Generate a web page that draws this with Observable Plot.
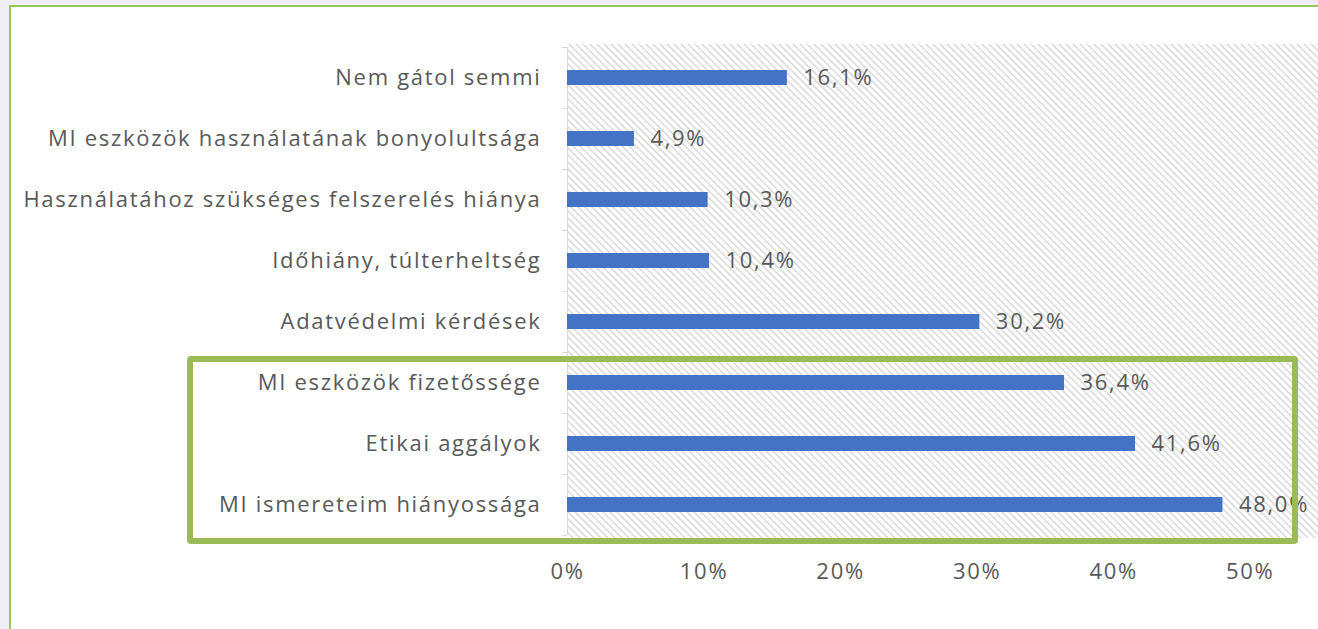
<!DOCTYPE html>
<html>
<head>
<meta charset="utf-8">
<script src="https://cdn.jsdelivr.net/npm/d3@7"></script>
<script src="https://cdn.jsdelivr.net/npm/@observablehq/plot@0.6"></script>
<style>
  html, body { margin: 0; padding: 0; overflow: hidden; background: #efeef4; width: 1318px; height: 629px; }
  #outer { position: absolute; left: 9px; top: 5px; width: 1400px; height: 700px; border: 2px solid #9cc35a; background: #fff; }
  #chart { position: absolute; left: 0; top: 0; }
  #chart svg { background: transparent; }
  #chart svg text { letter-spacing: 1.7px; }
  #hl { position: absolute; left: 187px; top: 356px; width: 1111px; height: 188px; box-sizing: border-box; border: 6px solid #9bbb59; border-radius: 4px; pointer-events: none; }
</style>
</head>
<body>
<div id="outer"></div>
<div id="chart"></div>
<div id="hl"></div>
<script>
const categories = [
  "Nem gátol semmi",
  "MI eszközök használatának bonyolultsága",
  "Használatához szükséges felszerelés hiánya",
  "Időhiány, túlterheltség",
  "Adatvédelmi kérdések",
  "MI eszközök fizetőssége",
  "Etikai aggályok",
  "MI ismereteim hiányossága"
];
const values = [16.1, 4.9, 10.3, 10.4, 30.2, 36.4, 41.6, 48.0];
const xTicks = [0, 10, 20, 30, 40, 50];

const data = categories.map((c, i) => ({cat: c, value: values[i]}));
const fmt = v => v.toFixed(1).replace(".", ",") + "%";

const FONT = "'Open Sans', sans-serif";

function hatchBackground(index, scales, values, dim) {
  const g = d3.create("svg:g");
  const defs = g.append("defs");
  const p = defs.append("pattern")
    .attr("id", "hatch").attr("patternUnits", "userSpaceOnUse")
    .attr("width", 7).attr("height", 7);
  p.append("rect").attr("width", 7).attr("height", 7).attr("fill", "#fff");
  const path = "M0,0L7,7M-1,6L1,8M6,-1L8,1";
  p.append("path").attr("d", path).attr("stroke", "#d8d8d8").attr("stroke-width", 1.4);
  g.append("rect")
    .attr("x", dim.marginLeft).attr("y", dim.marginTop)
    .attr("width", dim.width - dim.marginLeft - dim.marginRight)
    .attr("height", dim.height - dim.marginTop - dim.marginBottom)
    .attr("fill", "url(#hatch)");
  return g.node();
}

function bandTicks(index, scales, values, dim) {
  const y = scales.y;
  const g = d3.create("svg:g").attr("stroke", "#d9d9d9").attr("stroke-width", 1);
  const x0 = dim.marginLeft;
  const starts = categories.map(c => y(c));
  const step = starts.length > 1 ? starts[1] - starts[0] : 0;
  const bounds = starts.concat([starts[starts.length - 1] + step]);
  bounds.forEach(b => {
    g.append("line").attr("x1", x0 - 5).attr("x2", x0).attr("y1", b + 0.5).attr("y2", b + 0.5);
  });
  g.append("line").attr("x1", x0 + 0.5).attr("x2", x0 + 0.5)
    .attr("y1", bounds[0]).attr("y2", bounds[bounds.length - 1]);
  return g.node();
}

const chart = Plot.plot({
  width: 1318,
  height: 629,
  marginTop: 44,
  marginBottom: 91,
  marginLeft: 567,
  marginRight: 0,
  style: {background: "transparent", fontFamily: FONT, fontSize: "22px", color: "#595959"},
  x: {domain: [0, 55], ticks: xTicks, tickFormat: d => d + "%", tickSize: 0, tickPadding: 25, label: null},
  y: {domain: categories, padding: 0, tickSize: 0, tickPadding: 26, label: null},
  marks: [
    hatchBackground,
    bandTicks,
    Plot.barX(data, {x: "value", y: "cat", fill: "#4472c4", insetTop: 23, insetBottom: 23}),
    Plot.text(data, {x: "value", y: "cat", text: d => fmt(d.value), textAnchor: "start", dx: 16, fill: "#595959", fontSize: 22})
  ]
});
document.getElementById("chart").appendChild(chart);
</script>
</body>
</html>
